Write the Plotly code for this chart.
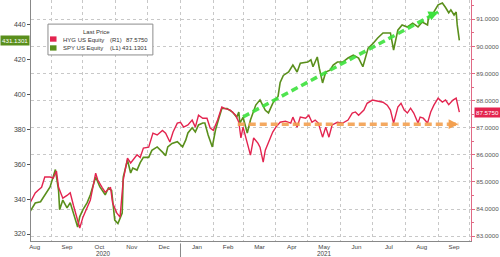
import plotly.graph_objects as go

# ---------------- data ----------------
spy_dates = ["2020-08-12","2020-08-17","2020-08-22","2020-08-26","2020-08-31","2020-09-05","2020-09-08","2020-09-09",
             "2020-09-12","2020-09-16","2020-09-19","2020-09-22","2020-09-26","2020-09-28","2020-10-01","2020-10-05",
             "2020-10-08","2020-10-13","2020-10-14","2020-10-17","2020-10-22","2020-10-25","2020-10-28","2020-10-31",
             "2020-11-03","2020-11-07","2020-11-08","2020-11-12","2020-11-15","2020-11-17","2020-11-21","2020-11-24",
             "2020-11-27","2020-12-02","2020-12-05","2020-12-10","2020-12-15","2020-12-18","2020-12-20","2020-12-24",
             "2020-12-29","2021-01-03","2021-01-06","2021-01-08","2021-01-12","2021-01-15","2021-01-18","2021-01-22",
             "2021-01-24","2021-01-27","2021-01-31","2021-02-03","2021-02-06","2021-02-09","2021-02-14","2021-02-19",
             "2021-02-23","2021-02-25","2021-02-26","2021-03-01","2021-03-05","2021-03-08","2021-03-13","2021-03-17",
             "2021-03-22","2021-03-25","2021-03-29","2021-04-03","2021-04-05","2021-04-08","2021-04-13","2021-04-17",
             "2021-04-21","2021-04-24","2021-05-01","2021-05-04","2021-05-06","2021-05-10","2021-05-12","2021-05-15",
             "2021-05-18","2021-05-22","2021-05-25","2021-05-29","2021-06-03","2021-06-08","2021-06-13","2021-06-18",
             "2021-06-22","2021-06-25","2021-06-27","2021-07-02","2021-07-06","2021-07-11","2021-07-15","2021-07-18",
             "2021-07-21","2021-07-25","2021-07-29","2021-08-03","2021-08-08","2021-08-13","2021-08-17","2021-08-22",
             "2021-08-23","2021-08-28","2021-09-01","2021-09-05","2021-09-08","2021-09-11","2021-09-13","2021-09-16",
             "2021-09-18","2021-09-19","2021-09-21"]
spy_vals = [332.8,337.8,338.5,342.0,347.0,357.0,345.0,334.0,
            339.5,335.0,338.0,332.0,324.0,330.0,334.0,338.0,
            342.5,352.7,351.0,347.0,342.5,346.4,345.0,328.0,
            326.0,332.0,352.7,362.5,355.0,357.9,356.7,361.0,
            364.0,364.0,368.0,370.0,367.0,365.0,370.0,372.0,
            373.0,370.0,374.0,378.0,381.0,378.6,382.6,383.7,
            383.7,377.0,370.0,379.7,386.0,392.0,392.0,390.0,
            387.0,390.0,383.7,387.0,378.0,385.4,394.0,397.0,
            391.0,389.5,395.0,399.0,407.0,411.0,413.0,417.0,
            413.0,418.0,418.7,420.0,416.0,421.6,415.0,406.7,
            413.0,414.0,417.0,418.7,418.7,421.0,422.7,421.0,
            416.0,422.7,426.7,429.6,432.5,435.4,435.4,435.4,
            425.6,437.0,440.0,438.8,441.0,438.8,441.7,440.0,
            444.6,447.4,451.5,452.6,450.0,447.0,448.6,445.7,
            447.4,440.0,431.1301]

hyg_dates = ["2020-08-12","2020-08-17","2020-08-20","2020-08-23","2020-08-26","2020-08-31","2020-09-03","2020-09-06",
             "2020-09-08","2020-09-10","2020-09-12","2020-09-16","2020-09-19","2020-09-22","2020-09-26","2020-09-28",
             "2020-10-01","2020-10-05","2020-10-08","2020-10-13","2020-10-15","2020-10-19","2020-10-22","2020-10-27",
             "2020-10-29","2020-11-02","2020-11-05","2020-11-08","2020-11-12","2020-11-15","2020-11-17","2020-11-21",
             "2020-11-24","2020-11-27","2020-12-02","2020-12-06","2020-12-10","2020-12-15","2020-12-18","2020-12-22",
             "2020-12-25","2020-12-29","2021-01-01","2021-01-04","2021-01-08","2021-01-12","2021-01-15","2021-01-18",
             "2021-01-22","2021-01-26","2021-01-29","2021-02-01","2021-02-05","2021-02-09","2021-02-12","2021-02-17",
             "2021-02-22","2021-02-25","2021-02-27","2021-03-01","2021-03-05","2021-03-08","2021-03-11","2021-03-15",
             "2021-03-17","2021-03-20","2021-03-22","2021-03-25","2021-03-29","2021-04-01","2021-04-05","2021-04-10",
             "2021-04-15","2021-04-17","2021-04-21","2021-04-24","2021-04-29","2021-05-02","2021-05-05","2021-05-08",
             "2021-05-11","2021-05-15","2021-05-18","2021-05-21","2021-05-24","2021-05-29","2021-06-03","2021-06-08",
             "2021-06-12","2021-06-15","2021-06-18","2021-06-23","2021-06-26","2021-07-01","2021-07-06","2021-07-11",
             "2021-07-15","2021-07-18","2021-07-21","2021-07-25","2021-07-28","2021-07-31","2021-08-03","2021-08-06",
             "2021-08-09","2021-08-13","2021-08-15","2021-08-18","2021-08-22","2021-08-25","2021-08-28","2021-09-01",
             "2021-09-05","2021-09-08","2021-09-11","2021-09-15","2021-09-18","2021-09-19","2021-09-21"]
hyg_vals = [84.22,84.59,84.70,84.80,85.18,85.18,85.14,85.40,
            84.80,84.60,84.40,84.50,84.60,84.14,83.60,83.30,
            83.70,84.07,84.33,85.32,85.07,84.80,84.62,84.80,
            84.22,83.85,83.70,85.07,85.88,85.70,85.80,86.00,
            85.90,86.25,86.28,86.80,86.73,86.90,86.80,86.47,
            86.84,87.17,87.20,87.02,87.10,87.28,87.02,87.46,
            87.35,87.35,86.99,86.90,87.28,87.76,87.70,87.65,
            87.46,87.20,86.62,87.02,86.43,85.99,86.62,86.43,
            86.28,85.73,86.17,86.47,86.84,87.02,87.20,87.24,
            87.17,87.39,87.02,87.39,87.35,87.46,87.20,87.28,
            87.17,86.65,87.02,86.65,87.10,87.20,87.17,87.28,
            87.54,87.58,87.46,87.65,87.90,88.02,87.98,87.94,
            87.83,87.65,87.17,87.76,87.90,87.65,87.54,87.72,
            87.54,87.17,87.39,87.35,87.17,87.58,87.83,88.09,
            87.94,88.02,87.85,88.02,88.09,87.94,87.575]

# trend-arrow annotations (date, value)
green_arrow_dates = ["2021-03-01", "2021-09-01"]
green_arrow_vals = [387.2, 447.4]
orange_arrow_dates = ["2021-02-24", "2021-09-20"]
orange_arrow_vals = [87.13, 87.13]

left_ticks = [320, 340, 360, 380, 400, 420, 440]
right_ticks = [83, 84, 85, 86, 87, 88, 89, 90, 91]
year_labels = ["2020", "2021"]
year_label_dates = ["2020-10-20", "2021-05-17"]
x_range = ["2020-08-13", "2021-10-02"]
left_range = [316.0, 454.3]
right_range = [82.82, 91.71]

HYG_C = "#e3244f"
SPY_C = "#5a8f1c"
GREEN_A = "#3de23d"
ORANGE_A = "#f3a050"
FONT = "Liberation Sans"

fig = go.Figure()
fig.add_trace(go.Scatter(x=spy_dates, y=spy_vals, mode="lines", yaxis="y",
                         line=dict(color=SPY_C, width=1.6), showlegend=False))
fig.add_trace(go.Scatter(x=hyg_dates, y=hyg_vals, mode="lines", yaxis="y2",
                         line=dict(color=HYG_C, width=1.4), showlegend=False))
fig.add_trace(go.Scatter(x=green_arrow_dates, y=green_arrow_vals, mode="lines", yaxis="y",
                         line=dict(color=GREEN_A, width=3.5, dash="7px,4px"), opacity=0.9, showlegend=False))
fig.add_trace(go.Scatter(x=orange_arrow_dates, y=orange_arrow_vals, mode="lines", yaxis="y2",
                         line=dict(color=ORANGE_A, width=3.5, dash="7px,4px"), opacity=0.9, showlegend=False))

ann = []
# arrow heads
ann.append(dict(x=green_arrow_dates[1], y=green_arrow_vals[1], xref="x", yref="y", text="",
                showarrow=True, arrowhead=2, arrowsize=0.55, arrowwidth=3.5, arrowcolor=GREEN_A,
                ax=-9, ay=4))
ann.append(dict(x=orange_arrow_dates[1], y=orange_arrow_vals[1], xref="x", yref="y2", text="",
                showarrow=True, arrowhead=2, arrowsize=0.55, arrowwidth=3.5, arrowcolor=ORANGE_A,
                ax=-10, ay=0))
# price tags
ann.append(dict(x=0, xref="paper", xanchor="right", xshift=-1, y=spy_vals[-1], yref="y",
                text="431.1301", showarrow=False, bgcolor=SPY_C, borderpad=1,
                font=dict(family=FONT, size=6.2, color="white")))
ann.append(dict(x=1, xref="paper", xanchor="left", xshift=3, y=hyg_vals[-1], yref="y2",
                text="87.5750", showarrow=False, bgcolor=HYG_C, borderpad=1,
                font=dict(family=FONT, size=6.2, color="white")))
# legend box texts
lf = dict(family=FONT, size=6, color="#333333")
ann.append(dict(x=0.149, y=0.867, xref="paper", yref="paper", text="Last Price", showarrow=False,
                xanchor="center", yanchor="middle", font=lf))
for yy, name, tag, val in [(0.836, "HYG US Equity", "(R1)", "87.5750"),
                           (0.801, "SPY US Equity", "(L1)", "431.1301")]:
    ann.append(dict(x=0.0675, y=yy, xref="paper", yref="paper", text=name, showarrow=False,
                    xanchor="left", yanchor="middle", font=lf))
    ann.append(dict(x=0.175, y=yy, xref="paper", yref="paper", text=tag, showarrow=False,
                    xanchor="left", yanchor="middle", font=lf))
    ann.append(dict(x=0.2705, y=yy, xref="paper", yref="paper", text=val, showarrow=False,
                    xanchor="right", yanchor="middle", font=lf))
# year labels
for yl, yd in zip(year_labels, year_label_dates):
    ann.append(dict(x=yd, y=-0.05, xref="x", yref="paper", text=yl, showarrow=False,
                    yanchor="middle", font=dict(family=FONT, size=6.3, color="#444444")))

shapes = [
    dict(type="rect", xref="paper", yref="paper", x0=0.0386, x1=0.277, y0=0.772, y1=0.900,
         line=dict(color="#8c8c8c", width=1), fillcolor="white", layer="above"),
    dict(type="rect", xref="paper", yref="paper", x0=0.0432, x1=0.058, y0=0.827, y1=0.849,
         line=dict(width=0), fillcolor=HYG_C, layer="above"),
    dict(type="rect", xref="paper", yref="paper", x0=0.0432, x1=0.058, y0=0.790, y1=0.812,
         line=dict(width=0), fillcolor=SPY_C, layer="above"),
    dict(type="line", xref="x", yref="paper", x0="2021-01-01", x1="2021-01-01", y0=-0.01, y1=-0.07,
         line=dict(color="#888888", width=1)),
]

fig.update_layout(
    width=500, height=257,
    margin=dict(l=31, r=29, t=0, b=16),
    paper_bgcolor="white", plot_bgcolor="white",
    showlegend=False,
    annotations=ann, shapes=shapes,
    xaxis=dict(type="date", range=x_range, dtick="M1", tick0="2020-08-01", tickformat="%b",
               ticklabelmode="period", ticks="", 
               minor=dict(dtick="M1", tick0="2020-08-01", ticks="outside", ticklen=3,
                          tickcolor="#888888", showgrid=False),
               showline=True, linecolor="#888888", linewidth=1,
               showgrid=True, gridcolor="#c8c8c8", griddash="dot", gridwidth=1,
               tickfont=dict(family=FONT, size=6.2, color="#444444"), zeroline=False),
    yaxis=dict(range=left_range, tickvals=left_ticks, ticks="outside", ticklen=3,
               tickcolor="#555555", showline=True, linecolor="#888888", linewidth=1,
               showgrid=False, zeroline=False,
               tickfont=dict(family=FONT, size=7, color="#444444")),
    yaxis2=dict(range=right_range, tickvals=right_ticks, tickformat=".4f", overlaying="y",
                side="right", ticks="outside", ticklen=3, tickcolor="#e06a85",
                showline=True, linecolor="#e06a85", linewidth=1,
                showgrid=True, gridcolor="#c8c8c8", griddash="dot", gridwidth=1, zeroline=False,
                minor=dict(dtick=0.5, ticks="outside", ticklen=2, tickcolor="#e06a85"),
                tickfont=dict(family=FONT, size=6.2, color="#555555")),
)

fig.write_html("out.html")
